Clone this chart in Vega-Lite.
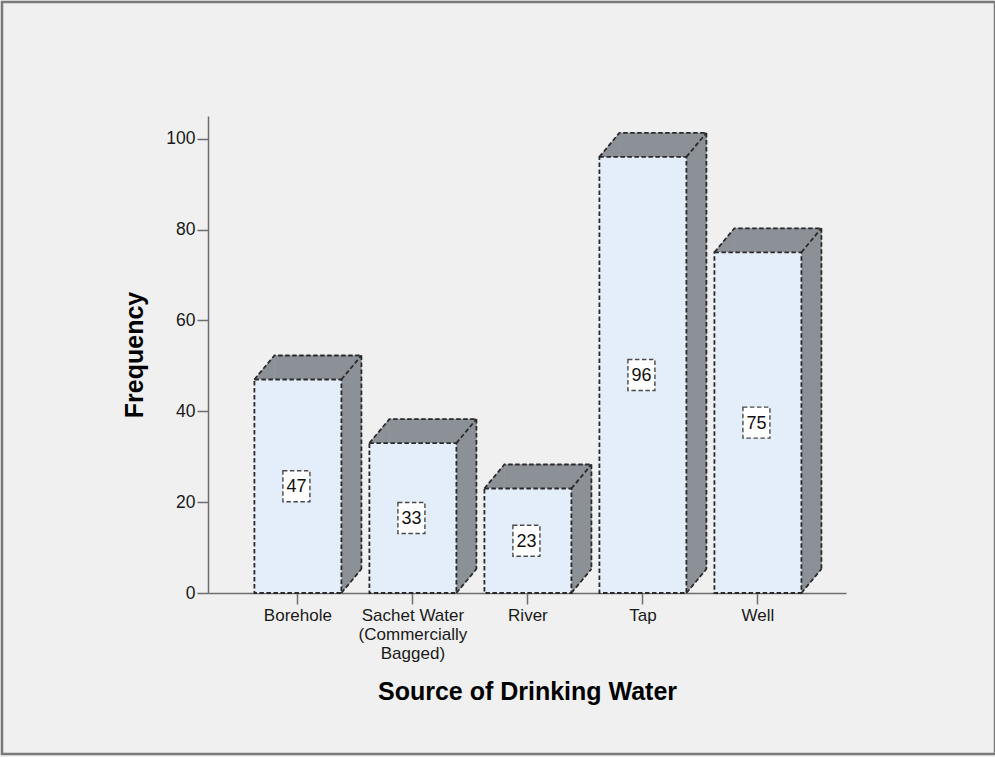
{
  "$schema": "https://vega.github.io/schema/vega-lite/v6.json",
  "width": 993,
  "height": 752,
  "autosize": "none",
  "padding": {"left": 2, "top": 2, "right": 0, "bottom": 3},
  "background": "#f0f0f0",
  "config": {
    "font": "Liberation Sans",
    "view": {"stroke": "#7a7a7a", "strokeWidth": 2.5, "fill": "#f0f0f0"}
  },
  "data": {
    "values": [
      {"source": "Borehole", "count": 47},
      {"source": "Sachet Water (Commercially Bagged)", "count": 33},
      {"source": "River", "count": 23},
      {"source": "Tap", "count": 96},
      {"source": "Well", "count": 75}
    ]
  },
  "encoding": {
    "x": {
      "field": "source",
      "type": "nominal",
      "sort": null,
      "scale": {"range": [206, 844], "paddingInner": 0.2435, "paddingOuter": 0.3956, "align": 0.51},
      "title": "Source of Drinking Water",
      "axis": {
        "orient": "bottom",
        "offset": -161,
        "domainColor": "#6e6e6e",
        "domainWidth": 1.5,
        "tickColor": "#6e6e6e",
        "tickWidth": 1.5,
        "tickSize": 11,
        "labelPadding": 3,
        "labelAngle": 0,
        "labelFontSize": 17,
        "labelLineHeight": 19,
        "labelColor": "#1a1a1a",
        "labelOverlap": false,
        "labelLimit": 300,
        "labelExpr": "datum.value == 'Sachet Water (Commercially Bagged)' ? ['Sachet Water', '(Commercially', 'Bagged)'] : datum.label",
        "titleFontSize": 25,
        "titleFontWeight": "bold",
        "titleColor": "#000000",
        "titlePadding": 18
      }
    }
  },
  "layer": [
    {
      "encoding": {
        "y": {
          "field": "count",
          "type": "quantitative",
          "scale": {"domain": [0, 105], "range": [591, 114], "nice": false, "zero": true},
          "title": "Frequency",
          "axis": {
            "orient": "left",
            "offset": -206,
            "values": [0, 20, 40, 60, 80, 100],
            "grid": false,
            "domainColor": "#6e6e6e",
            "domainWidth": 1.5,
            "tickColor": "#6e6e6e",
            "tickWidth": 1.5,
            "tickSize": 11,
            "labelPadding": 2,
            "labelFontSize": 17.5,
            "labelColor": "#1a1a1a",
            "titleFontSize": 25,
            "titleFontWeight": "bold",
            "titleColor": "#000000",
            "titlePadding": 18
          }
        }
      },
      "layer": [
        {
          "mark": {"type": "bar", "fill": "#8c9198", "stroke": "#8c9198", "strokeWidth": 0.6, "xOffset": 20, "x2Offset": 20, "yOffset": -24, "y2Offset": -24}
        },
        {
          "mark": {"type": "point", "shape": "M0 0 L20 0 L20 -24 Z", "size": 4, "filled": true, "fill": "#8c9198", "stroke": "#8c9198", "strokeWidth": 0.6, "opacity": 1, "xOffset": -43.5}
        },
        {
          "mark": {"type": "point", "shape": "M0 0 L0 -24 L20 -24 Z", "size": 4, "filled": true, "fill": "#8c9198", "stroke": "#8c9198", "strokeWidth": 0.6, "opacity": 1, "xOffset": 43.5},
          "encoding": {"y": {"datum": 0}}
        },
        {
          "mark": {"type": "bar", "fill": "#e3eefa", "stroke": "#2a2a2a", "strokeWidth": 1.8, "strokeDash": [4.5, 2.5]}
        },
        {
          "mark": {"type": "point", "shape": "M0 0 L20 -24 L107 -24 M87 0 L107 -24", "size": 4, "filled": false, "stroke": "#2a2a2a", "strokeWidth": 1.8, "strokeDash": [4.5, 2.5], "opacity": 1, "xOffset": -43.5}
        },
        {
          "mark": {"type": "point", "shape": "M0 0 L20 -24", "size": 4, "filled": false, "stroke": "#2a2a2a", "strokeWidth": 1.8, "strokeDash": [4.5, 2.5], "opacity": 1, "xOffset": 43.5},
          "encoding": {"y": {"datum": 0}}
        },
        {
          "mark": {"type": "rule", "stroke": "#2a2a2a", "strokeWidth": 1.8, "strokeDash": [4.5, 2.5], "xOffset": 63.5, "yOffset": -24, "y2Offset": -24},
          "encoding": {"y2": {"datum": 0}}
        }
      ]
    },
    {
      "encoding": {
        "y": {
          "field": "count",
          "type": "quantitative",
          "scale": {"domain": [0, 210], "range": [591, 114], "nice": false, "zero": true},
          "axis": null
        }
      },
      "layer": [
        {
          "mark": {"type": "point", "shape": "M-13.5 -15.5 H13.5 V15.5 H-13.5 Z", "size": 4, "filled": true, "fill": "#ffffff", "stroke": "#4a4a4a", "strokeWidth": 1.4, "strokeDash": [4.5, 2.5], "opacity": 1, "xOffset": -1.5}
        },
        {
          "mark": {"type": "text", "fontSize": 18, "color": "#111111", "align": "center", "baseline": "middle", "dx": -1.5, "dy": 1},
          "encoding": {"text": {"field": "count", "type": "quantitative"}}
        }
      ]
    }
  ],
  "resolve": {"scale": {"y": "independent"}}
}
